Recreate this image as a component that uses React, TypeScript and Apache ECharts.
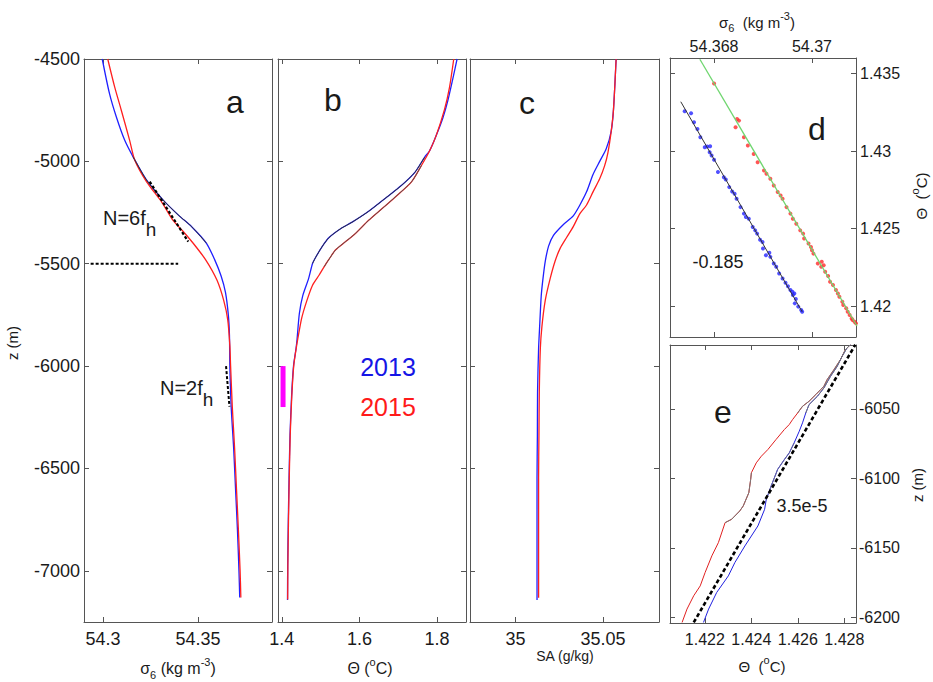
import React, { useEffect, useRef } from "react";
import * as echarts from "echarts";

const FONT = "'Liberation Sans', Arial, Helvetica, sans-serif";

// ---------- tick labels ----------
const zTicks = [-7000, -6500, -6000, -5500, -5000, -4500];
const sigmaTicksA = [54.3, 54.35];
const thetaTicksB = [1.4, 1.6, 1.8];
const saTicksC = [35, 35.05];
const sigmaTicksD = [54.368, 54.37];
const thetaTicksD = [1.42, 1.425, 1.43, 1.435];
const thetaTicksE = [1.422, 1.424, 1.426, 1.428];
const zTicksE = [-6200, -6150, -6100, -6050];

// ---------- panel a: sigma6 vs z ----------
const aBlue2013 = [
  [54.2996, -4500], [54.3034, -4668], [54.307, -4782], [54.3114, -4896], [54.3158, -4977],
  [54.3229, -5091], [54.3316, -5188], [54.34, -5265], [54.3467, -5319], [54.3545, -5400],
  [54.3588, -5480], [54.3622, -5560], [54.3645, -5640], [54.366, -5750], [54.3666, -5850],
  [54.3668, -6000], [54.3675, -6200], [54.3688, -6400], [54.3698, -6600], [54.3708, -6800],
  [54.3716, -7000], [54.372, -7130],
];
const aRed2015 = [
  [54.3025, -4500], [54.3061, -4635], [54.3096, -4749], [54.314, -4896], [54.3167, -4993],
  [54.3229, -5099], [54.331, -5200], [54.337, -5290], [54.342, -5340], [54.3475, -5400],
  [54.354, -5480], [54.36, -5580], [54.3636, -5680], [54.3657, -5774], [54.3668, -5900],
  [54.3672, -6000], [54.3681, -6200], [54.3693, -6400], [54.3703, -6600], [54.3713, -6800],
  [54.3722, -7000], [54.3726, -7130],
];
const aN6fh = [[54.3246, -5099], [54.3449, -5392]];
const aLevel5500 = [[54.2935, -5500], [54.3396, -5500]];
const aN2fh = [[54.3648, -6000], [54.3666, -6198]];

// ---------- panel b: Theta vs z ----------
const bBlue2013 = [
  [1.852, -4500], [1.8408, -4598], [1.828, -4704], [1.8153, -4788], [1.7983, -4873],
  [1.7812, -4948], [1.7685, -4979], [1.743, -5054], [1.7089, -5117], [1.6664, -5181],
  [1.6238, -5244], [1.5813, -5297], [1.5515, -5329], [1.5217, -5372], [1.5047, -5414],
  [1.4877, -5467], [1.4791, -5499], [1.4689, -5573], [1.4536, -5658], [1.4451, -5743],
  [1.4391, -5870], [1.4366, -5913], [1.43, -6000], [1.425, -6150], [1.421, -6337],
  [1.4185, -6549], [1.4165, -6761], [1.415, -6973], [1.4145, -7143],
];
const bRed2015 = [
  [1.8434, -4500], [1.8323, -4640], [1.8196, -4746], [1.7983, -4873], [1.7812, -4948],
  [1.76, -5020], [1.7344, -5100], [1.6919, -5175], [1.6579, -5232], [1.6238, -5288],
  [1.5898, -5352], [1.5643, -5392], [1.5387, -5432], [1.5217, -5478], [1.5089, -5515],
  [1.4962, -5555], [1.4791, -5605], [1.4638, -5684], [1.4511, -5766], [1.4408, -5870],
  [1.437, -5913], [1.4305, -6000], [1.4255, -6150], [1.4215, -6337], [1.419, -6549],
  [1.417, -6761], [1.4155, -6973], [1.415, -7140],
];
const bMagenta = [[1.403, -6000], [1.403, -6200]];

// ---------- panel c: SA vs z ----------
const cBlue2013 = [
  [35.0575, -4500], [35.056, -4746], [35.0547, -4852], [35.0519, -4937], [35.0481, -5000],
  [35.0443, -5064], [35.0406, -5149], [35.0368, -5213], [35.033, -5266], [35.0274, -5308],
  [35.0217, -5361], [35.0189, -5414], [35.017, -5488], [35.0157, -5573], [35.0147, -5658],
  [35.0138, -5806], [35.0132, -5913], [35.0126, -6125], [35.0125, -6337], [35.0123, -6549],
  [35.0123, -6761], [35.0123, -6973], [35.0123, -7143],
];
const cRed2015 = [
  [35.0575, -4500], [35.056, -4746], [35.0547, -4852], [35.0528, -4958], [35.0509, -5022],
  [35.0481, -5085], [35.0443, -5149], [35.0406, -5213], [35.0368, -5255], [35.033, -5319],
  [35.0292, -5372], [35.0255, -5425], [35.0226, -5488], [35.0198, -5573], [35.017, -5679],
  [35.0151, -5806], [35.0142, -5913], [35.0136, -6125], [35.0134, -6337], [35.0132, -6549],
  [35.0132, -6761], [35.0132, -6973], [35.0132, -7132],
];

// ---------- panel d: sigma6 vs Theta ----------
const dBlue2013 = [
  [54.3674, 1.43256], [54.36753, 1.43243], [54.36759, 1.43185], [54.36766, 1.43142], [54.36772, 1.43089],
  [54.36781, 1.43024], [54.36786, 1.43029], [54.36792, 1.43031], [54.36791, 1.42992], [54.36795, 1.42971],
  [54.368, 1.42943], [54.36808, 1.42864], [54.3682, 1.42831], [54.36824, 1.42816], [54.36831, 1.42767],
  [54.36837, 1.42739], [54.36842, 1.42724], [54.36846, 1.42692], [54.36854, 1.42638], [54.36861, 1.42596],
  [54.36865, 1.42574], [54.36871, 1.42563], [54.36879, 1.4251], [54.36884, 1.42488], [54.36888, 1.42467],
  [54.36894, 1.42428], [54.36899, 1.42413], [54.369, 1.42371], [54.36906, 1.42328], [54.36913, 1.42343],
  [54.36915, 1.42317], [54.36922, 1.42274], [54.36927, 1.42253], [54.36933, 1.4221], [54.3694, 1.42178],
  [54.36946, 1.4215], [54.36951, 1.42128], [54.36956, 1.42103], [54.3696, 1.42092], [54.36964, 1.42081],
  [54.36967, 1.42045], [54.36965, 1.42017], [54.36972, 1.41996], [54.36978, 1.41974], [54.3698, 1.41963],
  [54.36961, 1.42071],
];
const dRed2015 = [
  [54.368, 1.43436], [54.36847, 1.43206], [54.36851, 1.43196], [54.36844, 1.43153], [54.36861, 1.43089],
  [54.36869, 1.43035], [54.36881, 1.42981], [54.36889, 1.42928], [54.36902, 1.42874], [54.36907, 1.42853],
  [54.36915, 1.42821], [54.36922, 1.42778], [54.3693, 1.42735], [54.36936, 1.42713], [54.3694, 1.42692],
  [54.36948, 1.42638], [54.36956, 1.42596], [54.36961, 1.42563], [54.36968, 1.42531], [54.36976, 1.42488],
  [54.36982, 1.42467], [54.36984, 1.42435], [54.36993, 1.42403], [54.36998, 1.42381], [54.37, 1.4236],
  [54.37003, 1.42338], [54.3702, 1.42285], [54.37024, 1.42263], [54.37012, 1.42274], [54.37019, 1.42253],
  [54.37027, 1.42221], [54.37033, 1.42193], [54.37037, 1.42156], [54.37043, 1.42135], [54.37049, 1.42103],
  [54.37053, 1.42081], [54.37056, 1.4206], [54.37062, 1.42028], [54.37064, 1.42006], [54.3707, 1.41985],
  [54.37073, 1.41963], [54.37077, 1.41942], [54.37081, 1.4192], [54.37083, 1.4191], [54.37087, 1.41899],
  [54.3709, 1.41888],
];
const dBlueFit = [[54.36732, 1.43318], [54.3698, 1.41963]];
const dRedFit = [[54.36771, 1.43592], [54.37092, 1.41871]];

// ---------- panel e: Theta vs z (zoom) ----------
const eRed2015 = [
  [1.42102, -6203.6], [1.42123, -6194.0], [1.42152, -6184.4], [1.4218, -6177.3], [1.42201, -6167.7],
  [1.4223, -6155.7], [1.42258, -6146.2], [1.42287, -6131.8], [1.42315, -6129.4], [1.4235, -6123.4],
  [1.42365, -6119.8], [1.42389, -6110.3], [1.42397, -6100.7], [1.424, -6095.9], [1.42421, -6088.8],
  [1.42443, -6084.0], [1.42471, -6079.2], [1.42506, -6072.0], [1.42542, -6064.8], [1.42563, -6061.2],
  [1.42577, -6057.7], [1.42599, -6052.9], [1.4262, -6048.1], [1.42648, -6044.5], [1.42677, -6039.7],
  [1.42698, -6036.1], [1.42712, -6033.7], [1.42726, -6028.9], [1.42755, -6021.8], [1.42783, -6014.6],
  [1.42804, -6007.4], [1.42826, -6003.8],
];
const eBlue2013 = [
  [1.42194, -6203.6], [1.42216, -6194.0], [1.42251, -6182.0], [1.42301, -6170.1], [1.42329, -6160.5],
  [1.42372, -6148.6], [1.42428, -6134.2], [1.42457, -6122.2], [1.42464, -6115.1], [1.42485, -6105.5],
  [1.42513, -6093.5], [1.42542, -6086.4], [1.42563, -6081.6], [1.42584, -6074.4], [1.42606, -6066.0],
  [1.4262, -6060.0], [1.42634, -6052.9], [1.42648, -6046.9], [1.42684, -6040.9], [1.42712, -6034.9],
  [1.4274, -6026.6], [1.42769, -6019.4], [1.4279, -6012.2], [1.42811, -6006.2], [1.42826, -6003.8],
];
const eSlope = [[1.42152, -6203.6], [1.42847, -6003.8]];

// ---------- helpers ----------
const FRAME = "#555";
const BLUE = "#1f1fff";
const RED = "#ff1f1f";

function mkAxis(
  grid: number, position: string, min: number, max: number,
  ticks: number[], showLabel: boolean, fontSize: number, margin: number
) {
  return {
    type: "value", gridIndex: grid, position, min, max,
    axisLine: { show: true, onZero: false, lineStyle: { color: FRAME, width: 1 } },
    axisTick: { show: true, inside: true, length: 5, customValues: ticks, lineStyle: { color: FRAME, width: 1 } },
    axisLabel: {
      show: showLabel, customValues: ticks, margin, fontSize, color: "#1a1a1a", fontFamily: FONT,
      formatter: (v: number) => String(v),
    },
    splitLine: { show: false },
  };
}

function ln(p: number, data: number[][], color: string, width: number, extra: any = {}, smooth = 0) {
  return {
    type: "line", xAxisIndex: 2 * p, yAxisIndex: 2 * p, data, symbol: "none", showSymbol: false,
    silent: true, clip: true, smooth, lineStyle: { color, width, ...extra }, z: extra.z || 2,
  };
}

function sc(p: number, data: number[][], color: string) {
  return {
    type: "scatter", xAxisIndex: 2 * p, yAxisIndex: 2 * p, data, symbol: "circle", symbolSize: 4,
    silent: true, itemStyle: { color }, z: 3,
  };
}

function richSet(fs: number, color = "#1a1a1a") {
  const s = Math.round(fs * 0.7);
  return {
    n: { fontSize: fs, lineHeight: fs + 8, fontFamily: FONT, fill: color },
    sub: { fontSize: s, lineHeight: s + 4, verticalAlign: "bottom", fontFamily: FONT, fill: color },
    sup: { fontSize: s, lineHeight: s + 2, verticalAlign: "top", fontFamily: FONT, fill: color },
  };
}

function txt(x: number, y: number, text: string, fs: number, o: any = {}) {
  return {
    type: "text", x, y, rotation: o.rotation || 0, silent: true, z: 100,
    style: {
      text, fontSize: fs, fontFamily: FONT, fill: o.fill || "#1a1a1a",
      align: o.align || "center", verticalAlign: "middle", rich: o.rich,
    },
  };
}

const nRich = {
  n: { fontSize: 20, lineHeight: 42, fontFamily: FONT, fill: "#1a1a1a" },
  sub: { fontSize: 19, lineHeight: 18, verticalAlign: "bottom", fontFamily: FONT, fill: "#1a1a1a" },
};

function buildOption() {
  const Z0 = -7250, Z1 = -4500;
  const grids = [
    { left: 84, top: 59, width: 188, height: 563 },
    { left: 278, top: 59, width: 188, height: 563 },
    { left: 470, top: 59, width: 189, height: 563 },
    { left: 670, top: 58, width: 186, height: 279 },
    { left: 670, top: 345, width: 186, height: 278 },
  ];
  const xAxis = [
    mkAxis(0, "bottom", 54.29, 54.389, sigmaTicksA, true, 18, 8),
    mkAxis(0, "top", 54.29, 54.389, sigmaTicksA, false, 18, 8),
    mkAxis(1, "bottom", 1.39, 1.875, thetaTicksB, true, 18, 8),
    mkAxis(1, "top", 1.39, 1.875, thetaTicksB, false, 18, 8),
    mkAxis(2, "bottom", 34.974, 35.082, saTicksC, true, 18, 8),
    mkAxis(2, "top", 34.974, 35.082, saTicksC, false, 18, 8),
    mkAxis(3, "bottom", 54.3671, 54.3709, sigmaTicksD, false, 16, 4),
    mkAxis(3, "top", 54.3671, 54.3709, sigmaTicksD, true, 16, 4),
    mkAxis(4, "bottom", 1.4205, 1.4285, thetaTicksE, true, 16, 8),
    mkAxis(4, "top", 1.4205, 1.4285, thetaTicksE, false, 16, 8),
  ];
  const yAxis = [
    mkAxis(0, "left", Z0, Z1, zTicks, true, 18, 4),
    mkAxis(0, "right", Z0, Z1, zTicks, false, 18, 4),
    mkAxis(1, "left", Z0, Z1, zTicks, false, 18, 4),
    mkAxis(1, "right", Z0, Z1, zTicks, false, 18, 4),
    mkAxis(2, "left", Z0, Z1, zTicks, false, 18, 4),
    mkAxis(2, "right", Z0, Z1, zTicks, false, 18, 4),
    mkAxis(3, "left", 1.418, 1.436, thetaTicksD, false, 16, 4),
    mkAxis(3, "right", 1.418, 1.436, thetaTicksD, true, 16, 4),
    mkAxis(4, "left", -6204, -6004, zTicksE, false, 16, 3),
    mkAxis(4, "right", -6204, -6004, zTicksE, true, 16, 3),
  ];

  const dash = { type: [3, 2], z: 5, cap: "butt" };
  const S = 0.25;
  const series: any[] = [
    // a
    ln(0, aBlue2013, BLUE, 1.3, {}, S),
    ln(0, aRed2015, RED, 1.3, {}, S),
    ln(0, aBlue2013.slice(4, 10), "#333", 1, { z: 4 }, S),
    ln(0, aN6fh, "#000", 2.2, dash),
    ln(0, aLevel5500, "#000", 2.2, dash),
    ln(0, aN2fh, "#000", 2, dash),
    // b
    ln(1, bBlue2013, BLUE, 1.3, {}, S),
    ln(1, bRed2015, RED, 1.3, {}, S),
    ln(1, bBlue2013.slice(6, 17), "#333", 1, { z: 4 }, S),
    ln(1, bRed2015.slice(5, 15), "#555", 1, { z: 4 }, S),
    ln(1, bMagenta, "#ff00ff", 5, { z: 5, cap: "butt" }),
    // c
    ln(2, cBlue2013, BLUE, 1.3, {}, S),
    ln(2, cRed2015, RED, 1.3, {}, S),
    // d
    sc(3, dBlue2013, "#2424ff"),
    sc(3, dRed2015, "#ff2a2a"),
    ln(3, dRedFit, "#6fd66f", 1.3, { z: 4 }),
    ln(3, dBlueFit, "#333", 1, { z: 4 }),
    // e
    ln(4, eRed2015, "#e02020", 1),
    ln(4, eBlue2013, "#2020e0", 1),
    ln(4, eRed2015.slice(21), "#777", 1, { z: 3 }),
    ln(4, eRed2015.slice(7, 14), "#777", 1, { z: 3 }),
    ln(4, eBlue2013.slice(8, 14), "#6a6a9a", 1, { z: 3 }),
    ln(4, eBlue2013.slice(16), "#777", 1, { z: 3 }),
    ln(4, eSlope, "#000", 2.6, { type: [4, 2.5], z: 5, cap: "butt" }),
  ];

  const r16 = richSet(16);
  const r15 = richSet(15);
  const graphic = [
    // panel letters
    txt(235, 102, "a", 32),
    txt(333, 100, "b", 32),
    txt(527, 103, "c", 32),
    txt(817, 129, "d", 32),
    txt(723, 412, "e", 32),
    // annotations
    txt(103, 218, "{n|N=6f}{sub|h}", 20, { align: "left", rich: nRich }),
    txt(160, 388, "{n|N=2f}{sub|h}", 20, { align: "left", rich: nRich }),
    txt(388, 367, "2013", 25, { fill: "#1515e6" }),
    txt(388, 407, "2015", 25, { fill: "#ff1a1a" }),
    txt(718, 262, "-0.185", 18),
    txt(802, 506, "3.5e-5", 18),
    // axis names
    txt(178, 668, "{n|σ}{sub|6}{n| (kg m}{sup|-3}{n|)}", 16, { rich: r16 }),
    txt(370, 668, "{n|Θ (}{sup|o}{n|C)}", 16, { rich: r16 }),
    txt(565, 656, "SA (g/kg)", 14),
    txt(757, 22, "{n|σ}{sub|6}{n|  (kg m}{sup|-3}{n|)}", 15, { rich: r15 }),
    txt(921, 196, "{n|Θ  (}{sup|o}{n|C)}", 15, { rich: r15, rotation: Math.PI / 2 }),
    txt(917, 485, "z (m)", 15, { rotation: Math.PI / 2 }),
    txt(762, 666, "{n|Θ  (}{sup|o}{n|C)}", 15, { rich: r15 }),
    txt(12, 343, "z (m)", 15, { rotation: Math.PI / 2 }),
  ];

  return {
    animation: false,
    backgroundColor: "#fff",
    textStyle: { fontFamily: FONT },
    grid: grids,
    xAxis,
    yAxis,
    series,
    graphic,
  };
}

export default function App() {
  const ref = useRef<HTMLDivElement>(null);
  useEffect(() => {
    if (!ref.current) return;
    const chart = echarts.init(ref.current, undefined, { renderer: "svg" });
    chart.setOption(buildOption() as any);
    return () => chart.dispose();
  }, []);
  return (
    <div
      ref={ref}
      style={{ position: "fixed", left: 0, top: 0, width: 933, height: 682, background: "#fff" }}
    />
  );
}
